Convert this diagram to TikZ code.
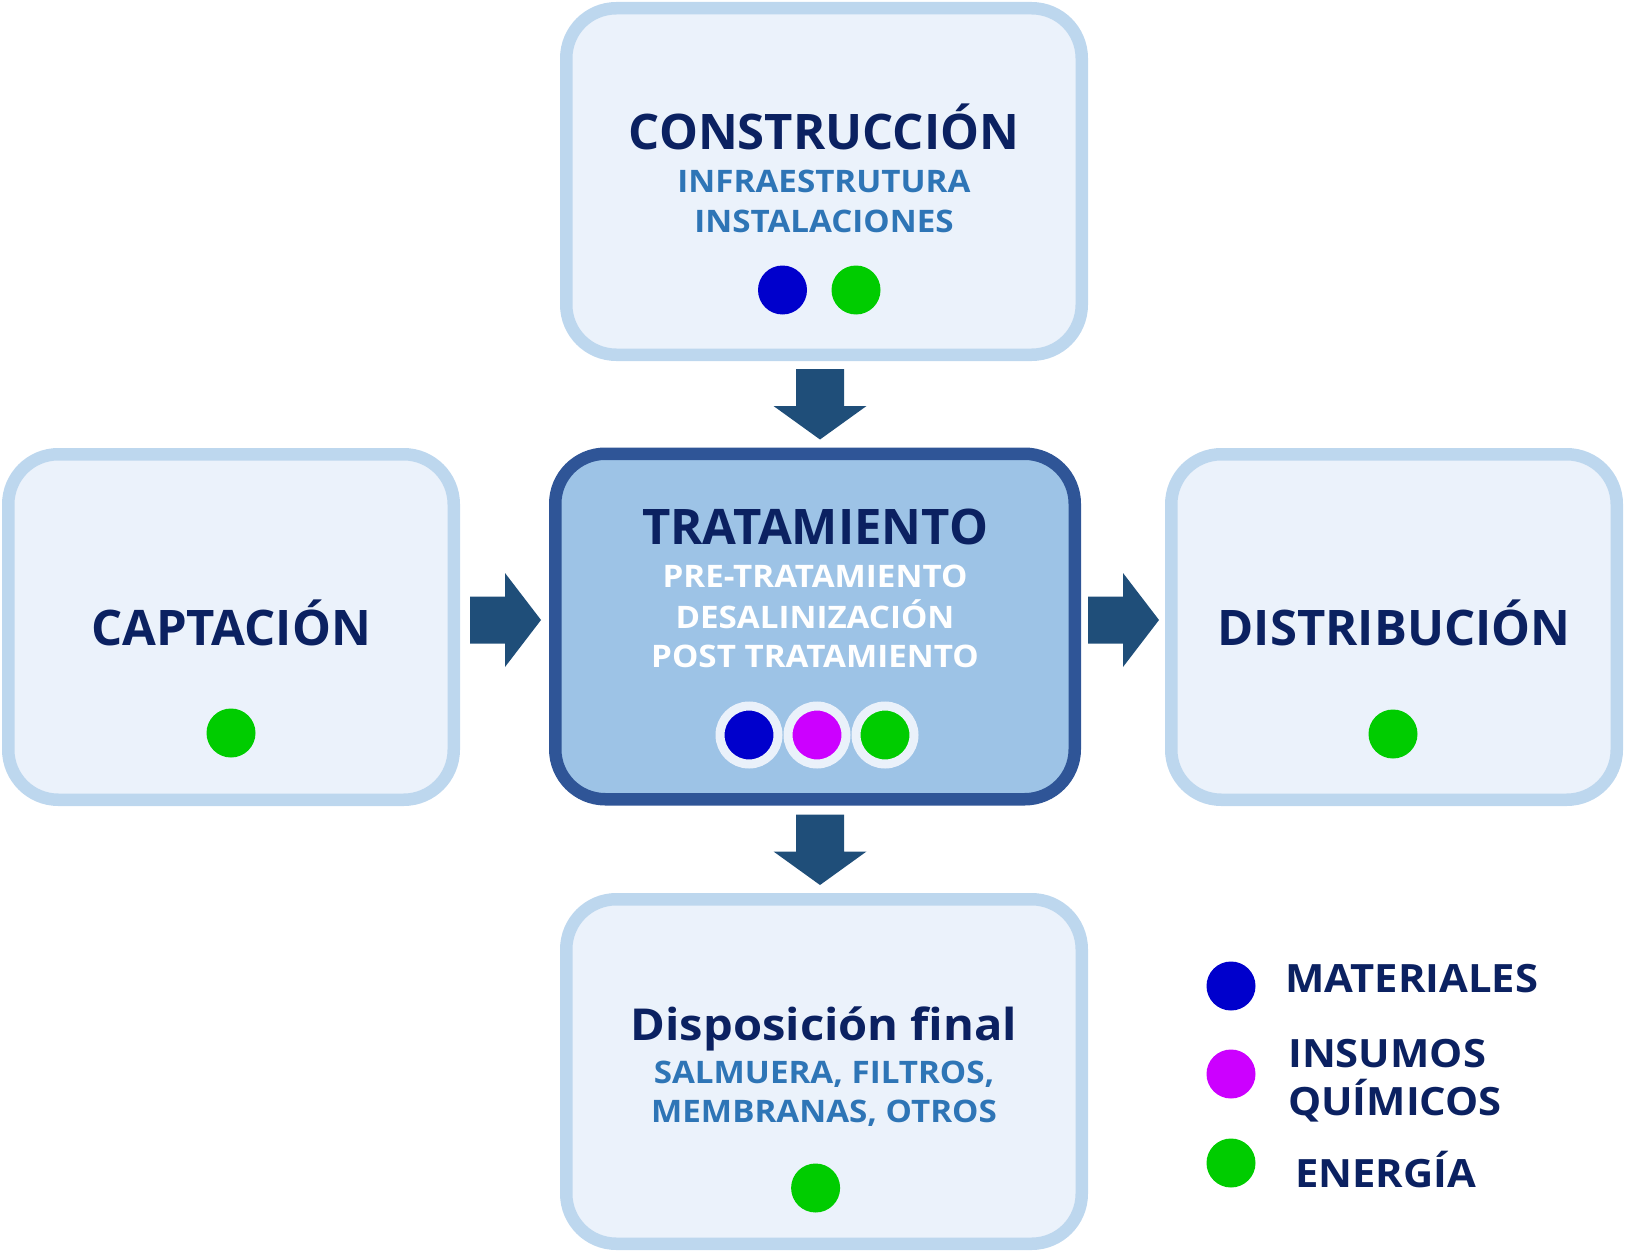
\documentclass[tikz,border=0pt]{standalone}
\usepackage{fontspec}
\setmainfont{Open Sans}
\newfontfamily\widefont{Open Sans}[FakeStretch=1.07]
\definecolor{lightfill}{HTML}{EBF2FB}
\definecolor{lightborder}{HTML}{BDD7EE}
\definecolor{darkfill}{HTML}{9DC3E6}
\definecolor{darkborder}{HTML}{2F5597}
\definecolor{navy}{HTML}{0B2161}
\definecolor{subblue}{HTML}{2E75B6}
\definecolor{arrowcol}{HTML}{1F4E79}
\definecolor{dblue}{HTML}{0000CC}
\definecolor{dmag}{HTML}{CC00FF}
\definecolor{dgreen}{HTML}{00CC00}
\definecolor{ringcol}{HTML}{EAF1FA}
\begin{document}
\begin{tikzpicture}[x=1pt,y=-1pt,
  lightbox/.style={draw=lightborder,fill=lightfill,line width=12.5pt,rounded corners=50pt,inner sep=0pt},
  darkbox/.style={draw=darkborder,fill=darkfill,line width=12.5pt,rounded corners=50pt,inner sep=0pt},
  titletext/.style={font=\fontsize{49}{58}\selectfont\bfseries,text=navy,inner sep=0pt,anchor=base},
  subtext/.style={font=\widefont\fontsize{31}{40}\selectfont\bfseries,text=subblue,inner sep=0pt,anchor=base},
  legtext/.style={font=\widefont\fontsize{39}{46}\selectfont\bfseries,text=navy,inner sep=0pt,anchor=base west},
  dot/.style={circle,minimum size=49pt,inner sep=0pt},
  ringdot/.style={circle,minimum size=58pt,inner sep=0pt,draw=ringcol,line width=9pt},
  rarrow/.pic={\fill[arrowcol] (0,-23.5) -- (35,-23.5) -- (35,-47) -- (71,0) -- (35,47) -- (35,23.5) -- (0,23.5) -- cycle;},
  darrow/.pic={\fill[arrowcol] (-24,0) -- (-24,37) -- (-46.5,37) -- (0,70.5) -- (46.5,37) -- (24,37) -- (24,0) -- cycle;}
]
\useasboundingbox (0,0) rectangle (1625,1252);

% boxes
\node[lightbox,minimum width=515.5pt,minimum height=346.5pt] (constr) at (824,181.5) {};
\node[lightbox,minimum width=445.5pt,minimum height=345.5pt] (capt) at (231,627) {};
\node[darkbox,minimum width=519.5pt,minimum height=345.5pt] (trat) at (815,626.5) {};
\node[lightbox,minimum width=445.5pt,minimum height=345.5pt] (distr) at (1394,627) {};
\node[lightbox,minimum width=515.5pt,minimum height=344.5pt] (disp) at (824,1071.5) {};

% texts
\node[titletext] (constrT) at (824,150) {CONSTRUCCIÓN};
\node[subtext] (constrS1) at (824,193) {INFRAESTRUTURA};
\node[subtext] (constrS2) at (824,233) {INSTALACIONES};

\node[titletext] (captT) at (231,645) {CAPTACIÓN};

\node[titletext] (tratT) at (815,544) {TRATAMIENTO};
\node[subtext,text=white] (tratS1) at (815,587) {PRE-TRATAMIENTO};
\node[subtext,text=white] (tratS2) at (815,628) {DESALINIZACIÓN};
\node[subtext,text=white] (tratS3) at (815,667) {POST TRATAMIENTO};

\node[titletext] (distrT) at (1394,645) {DISTRIBUCIÓN};

\node[titletext,font=\widefont\fontsize{44}{52}\selectfont\bfseries] (dispT) at (824,1040) {Disposición final};
\node[subtext] (dispS1) at (824,1083) {SALMUERA, FILTROS,};
\node[subtext] (dispS2) at (824,1122) {MEMBRANAS, OTROS};

% dots
\node[dot,fill=dblue] (constrD1) at (782.5,290) {};
\node[dot,fill=dgreen] (constrD2) at (856,290) {};
\node[dot,fill=dgreen] (captD) at (231,733) {};
\node[ringdot,fill=dblue] (tratD1) at (749,735) {};
\node[ringdot,fill=dmag] (tratD2) at (817,735) {};
\node[ringdot,fill=dgreen] (tratD3) at (885,735) {};
\node[dot,fill=dgreen] (distrD) at (1393,734) {};
\node[dot,fill=dgreen] (dispD) at (815.6,1188) {};

% arrows
\pic at (820,369) {darrow};
\pic at (470,620) {rarrow};
\pic at (1088,620) {rarrow};
\pic at (820,814.5) {darrow};

% legend
\node[dot,fill=dblue] (legD1) at (1231,986) {};
\node[dot,fill=dmag] (legD2) at (1231,1074) {};
\node[dot,fill=dgreen] (legD3) at (1231,1163) {};
\node[legtext] (legT1) at (1285,992) {MATERIALES};
\node[legtext] (legT2a) at (1288,1067) {INSUMOS};
\node[legtext] (legT2b) at (1288,1115) {QUÍMICOS};
\node[legtext] (legT3) at (1295,1187) {ENERGÍA};
\end{tikzpicture}
\end{document}
